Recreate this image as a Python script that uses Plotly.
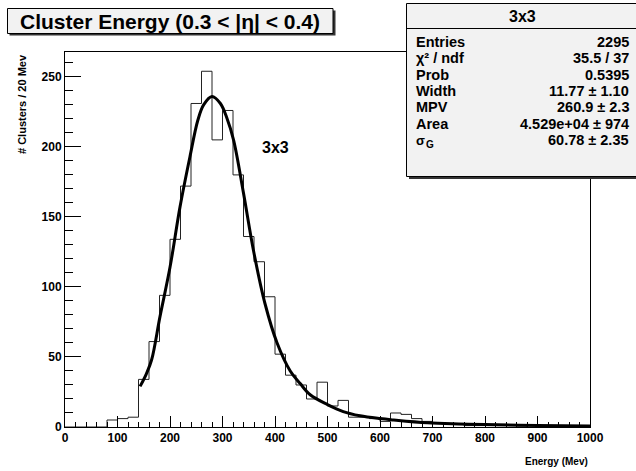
import plotly.graph_objects as go

# ---------------- data ----------------
bin_width = 20
bin_starts = list(range(0, 1000, bin_width))
counts = [0, 0, 0, 0, 5, 6, 7, 34, 61, 94,
          134, 172, 231, 254, 205, 226, 180, 136, 118, 93,
          52, 37, 30, 20, 32, 15, 19, 7, 7, 6,
          4, 10, 9, 6, 4, 3, 2, 2, 1, 1,
          1, 1, 1, 0, 1, 0, 1, 0, 1, 0]

fit_x = [143, 155, 165, 181, 200, 219, 238, 253, 264, 280, 296, 308, 321, 340, 359,
         381, 404, 429, 448, 467, 500, 530, 562, 600, 626, 690, 750, 800, 900, 1000]
fit_y = [29, 38, 48, 79, 114, 157, 193, 219, 230, 236, 231, 221, 205, 167, 126,
         88, 60, 40, 31, 23, 16, 11, 8, 6, 5, 3, 2.2, 1.8, 1.1, 0.7]

x_ticks = [0, 100, 200, 300, 400, 500, 600, 700, 800, 900, 1000]
y_ticks = [0, 50, 100, 150, 200, 250]

title_text = "Cluster Energy (0.3 < |η| < 0.4)"
stats_title = "3x3"
stats_labels = ["Entries", "χ² / ndf", "Prob", "Width", "MPV", "Area", "σ"]
stats_values = ["2295", "35.5 / 37", "0.5395", "11.77 ± 1.10", "260.9 ± 2.3",
                "4.529e+04 ± 974", "60.78 ± 2.35"]

# ---------------- geometry helpers (layout decorations only) ----------------
W, H = 636, 471
L, R, T, B = 65, 590, 52, 427
def px(x):
    return (x - L) / (R - L)
def py(y):
    return (B - y) / (B - T)

FONT = "Liberation Sans, Arial, Helvetica, sans-serif"

fig = go.Figure()

edges = bin_starts + [bin_starts[-1] + bin_width]
fig.add_trace(go.Scatter(
    x=edges, y=counts + [counts[-1]], mode="lines", line_shape="hv",
    line=dict(color="#222222", width=1), hoverinfo="skip", showlegend=False))

fig.add_trace(go.Scatter(
    x=fit_x, y=fit_y, mode="lines", line_shape="spline",
    line=dict(color="black", width=3), showlegend=False))

fig.update_layout(
    width=W, height=H,
    margin=dict(l=L, r=W - R, t=T, b=H - B, pad=0),
    paper_bgcolor="white", plot_bgcolor="white",
    font=dict(family=FONT, color="black"),
    xaxis=dict(range=[0, 1000], tickvals=x_ticks, ticktext=[str(v) for v in x_ticks],
               ticks="inside", ticklen=11, tickwidth=1, tickcolor="black",
               minor=dict(ticks="inside", ticklen=5, dtick=20, tickcolor="black", tickwidth=1),
               showgrid=False, zeroline=False, showline=True, linecolor="black",
               linewidth=1, mirror=True,
               tickfont=dict(family=FONT, size=12, weight="bold", color="black")),
    yaxis=dict(range=[0, 267.75], tickvals=y_ticks, ticktext=[str(v) for v in y_ticks],
               ticks="inside", ticklen=16, tickwidth=1, tickcolor="black",
               minor=dict(ticks="inside", ticklen=8, dtick=10, tickcolor="black", tickwidth=1),
               showgrid=False, zeroline=False, showline=True, linecolor="black",
               linewidth=1, mirror=True,
               tickfont=dict(family=FONT, size=12, weight="bold", color="black")),
)

shapes = []
annotations = []

# title box
shapes.append(dict(type="rect", xref="paper", yref="paper",
                   x0=px(9.5), x1=px(335.5), y0=py(35.5), y1=py(10.5),
                   fillcolor="#333333", line=dict(width=0), layer="above"))
shapes.append(dict(type="rect", xref="paper", yref="paper",
                   x0=px(7.5), x1=px(333), y0=py(33.5), y1=py(8.5),
                   fillcolor="#f2f2f2", line=dict(color="black", width=1), layer="above"))
annotations.append(dict(xref="paper", yref="paper", x=px(170), y=py(21),
                        text=title_text, showarrow=False, xanchor="center", yanchor="middle",
                        font=dict(family=FONT, size=21, weight="bold", color="black")))

# stats box
shapes.append(dict(type="rect", xref="paper", yref="paper",
                   x0=px(409), x1=px(640), y0=py(179), y1=py(6),
                   fillcolor="#333333", line=dict(width=0), layer="above"))
shapes.append(dict(type="rect", xref="paper", yref="paper",
                   x0=px(406.5), x1=px(640), y0=py(176.5), y1=py(3.5),
                   fillcolor="#f2f2f2", line=dict(color="black", width=1), layer="above"))
shapes.append(dict(type="line", xref="paper", yref="paper",
                   x0=px(406.5), x1=px(640), y0=py(28.5), y1=py(28.5),
                   line=dict(color="black", width=1), layer="above"))
annotations.append(dict(xref="paper", yref="paper", x=px(522), y=py(16.5),
                        text=stats_title, showarrow=False, xanchor="center", yanchor="middle",
                        font=dict(family=FONT, size=16, weight="bold", color="black")))
SF = 14.5
row_y = [42, 58.3, 74.6, 90.9, 107.2, 123.5, 139.8]
for i, (lab, val, yy) in enumerate(zip(stats_labels, stats_values, row_y)):
    last = i == len(stats_labels) - 1
    annotations.append(dict(xref="paper", yref="paper", x=px(415),
                            y=py(yy + 0.5 if last else yy),
                            text=lab, showarrow=False, xanchor="left", yanchor="middle",
                            borderpad=0,
                            font=dict(family=FONT, size=13 if last else SF,
                                      weight="bold", color="black")))
    annotations.append(dict(xref="paper", yref="paper", x=px(630), y=py(yy),
                            text=val, showarrow=False, xanchor="right", yanchor="middle",
                            borderpad=0,
                            font=dict(family=FONT, size=SF, weight="bold", color="black")))
# subscript G of sigma
annotations.append(dict(xref="paper", yref="paper", x=px(424.5), y=py(144.5),
                        text="G", showarrow=False, xanchor="left", yanchor="middle",
                        borderpad=0,
                        font=dict(family=FONT, size=10, weight="bold", color="black")))

# label inside plot
annotations.append(dict(xref="paper", yref="paper", x=px(275), y=py(147.5),
                        text="3x3", showarrow=False, xanchor="center", yanchor="middle",
                        font=dict(family=FONT, size=16, weight="bold", color="black")))

# axis titles
annotations.append(dict(xref="paper", yref="paper", x=px(590), y=py(461),
                        text="Energy (Mev)", showarrow=False, xanchor="right", yanchor="middle",
                        font=dict(family=FONT, size=10, weight="bold", color="black")))
annotations.append(dict(xref="paper", yref="paper", x=px(22), y=py(104),
                        text="# Clusters / 20 Mev", showarrow=False, textangle=-90,
                        xanchor="center", yanchor="middle",
                        font=dict(family=FONT, size=11, weight="bold", color="black")))

fig.update_layout(shapes=shapes, annotations=annotations)
fig.write_html("out.html")
